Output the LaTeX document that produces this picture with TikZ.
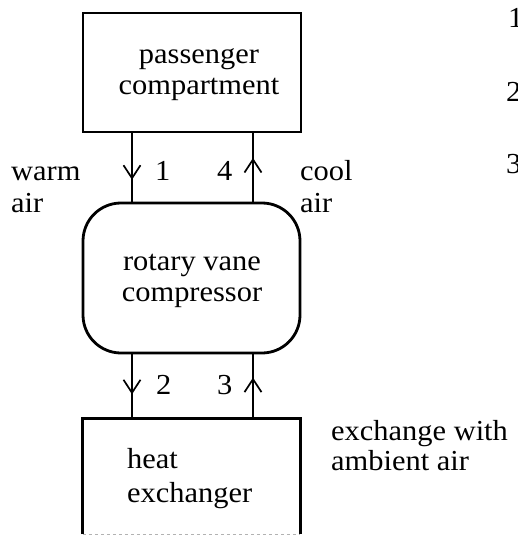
\documentclass[tikz,border=0pt]{standalone}
\usepackage{fontspec}
\setmainfont{Liberation Serif}[FakeStretch=1.05]
\usetikzlibrary{arrows.meta,decorations.markings}
\tikzset{
  box/.style={draw, line width=2.8pt, minimum width=218pt, minimum height=119pt, inner sep=0pt},
  rbox/.style={draw, line width=2.8pt, rounded corners=38pt, minimum width=217pt, minimum height=150pt, inner sep=0pt},
  txt/.style={font=\fontsize{29}{31}\selectfont, inner sep=0pt, align=center},
  ltxt/.style={font=\fontsize{29}{31}\selectfont, inner sep=0pt, align=left},
  flow/.style={line width=1.7pt, postaction={decorate}, decoration={markings,
     mark=at position #1 with {\arrow{Straight Barb[length=13pt,width=17pt,line width=1.7pt]}}}},
}
\begin{document}
\begin{tikzpicture}[x=1pt,y=-1pt]
\useasboundingbox (0,0) rectangle (517,537);
% columns for the connectors
\coordinate (xl) at (132,0);
\coordinate (xr) at (253,0);
% boxes
\node[box] (pc) at (192,72.5) {};
\node[txt] (pct) at (199,75) {passenger\\compartment};
\node[rbox] (rv) at (191.5,278) {};
\node[txt] (rvt) at (192,281) {rotary vane\\compressor};
\node[minimum width=217pt, minimum height=115pt, inner sep=0pt] (he) at (191.5,476.5) {};
\draw[line width=2.8pt] (he.south west) -- (he.north west) -- (he.north east) -- (he.south east);
\draw[line width=0.8pt, gray!60, dashed] (he.south west) -- (he.south east);
\node[ltxt, anchor=base west] (het1) at (127,468) {heat};
\node[ltxt, anchor=base west] (het2) at (127,502) {exchanger};
% connectors
\draw[flow=0.68] (pc.south -| xl) -- (rv.north -| xl);
\draw[flow=0.64] (rv.north -| xr) -- (pc.south -| xr);
\draw[flow=0.62] (rv.south -| xl) -- (he.north -| xl);
\draw[flow=0.64] (he.north -| xr) -- (rv.south -| xr);
% labels
\node[ltxt, anchor=base west] (n1) at (155,181) {1};
\node[ltxt, anchor=base west] (n4) at (217,181) {4};
\node[ltxt, anchor=base west] (n2) at (156,394) {2};
\node[ltxt, anchor=base west] (n3) at (217,394) {3};
\node[ltxt, anchor=base west] (wa1) at (11,181) {warm};
\node[ltxt, anchor=base west] (wa2) at (11,212) {air};
\node[ltxt, anchor=base west] (ca1) at (300,181) {cool};
\node[ltxt, anchor=base west] (ca2) at (300,212) {air};
\node[ltxt, anchor=base west] (ex1) at (331,440) {exchange with};
\node[ltxt, anchor=base west] (ex2) at (331,470) {ambient air};
% cut-off digits at the right edge (as in the reference)
\begin{scope}
\clip (0,0) rectangle (517,537);
\node[ltxt, anchor=base west] (r1) at (508,28) {1};
\node[ltxt, anchor=base west] (r2) at (506,102) {2};
\node[ltxt, anchor=base west] (r3) at (506,174) {3};
\end{scope}
\end{tikzpicture}
\end{document}
